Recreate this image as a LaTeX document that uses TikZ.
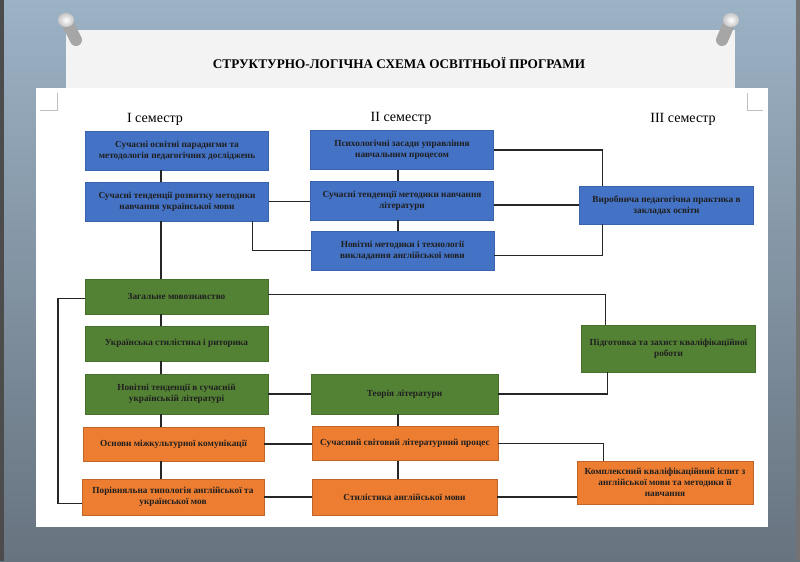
\documentclass[tikz,border=0pt]{standalone}
\usepackage{fontspec}
\setmainfont{Liberation Serif}
\definecolor{boxblue}{HTML}{4472C4}
\definecolor{boxblueline}{HTML}{3A63AE}
\definecolor{boxgreen}{HTML}{548235}
\definecolor{boxgreenline}{HTML}{46702B}
\definecolor{boxorange}{HTML}{ED7D31}
\definecolor{boxorangeline}{HTML}{C0652A}
\definecolor{bgtop}{HTML}{9CB2C5}
\definecolor{bgbot}{HTML}{67737F}
\definecolor{paper}{HTML}{F3F3F3}
\begin{document}
\begin{tikzpicture}[x=0.025cm,y=-0.025cm]
  % Define style for boxes
  \tikzstyle{box} = [draw, rectangle, align=center, inner sep=1pt, text=black!88, font=\fontsize{6.6}{7.8}\selectfont\bfseries]
  \tikzstyle{bluebox} = [box, fill=boxblue, draw=boxblueline]
  \tikzstyle{greenbox} = [box, fill=boxgreen, draw=boxgreenline]
  \tikzstyle{orangebox} = [box, fill=boxorange, draw=boxorangeline]
  \tikzstyle{wide} = [minimum width=4.575cm]
  \tikzstyle{narrow} = [minimum width=4.35cm]
  \tikzstyle{link} = [black!85, line width=0.8pt]
  \tikzstyle{semester} = [font=\fontsize{10}{12}\selectfont]

  \useasboundingbox (0,0) rectangle (800,561);

  % Background, paper and pins
  \shade[top color=bgtop, bottom color=bgbot] (0,0) rectangle (800,561);
  \fill[black!70] (0,0) rectangle (4,561);
  \fill[black!55] (796,0) rectangle (800,561);
  \fill[paper] (66,30) rectangle (735,90);
  \fill[white] (36,88) rectangle (768,527);
  \draw[gray!50, line width=0.4pt] (57,93) -- (57,110) -- (40,110);
  \draw[gray!50, line width=0.4pt] (747,93) -- (747,110) -- (763,110);
  \draw[gray!70, line width=0.3cm, line cap=round] (68,24) -- (76,40);
  \draw[gray!70, line width=0.3cm, line cap=round] (729,24) -- (722,40);
  \shade[inner color=white, outer color=gray!45] (66,20) ellipse (8 and 7);
  \shade[inner color=white, outer color=gray!45] (731,20) ellipse (8 and 7);

  \node (title)[font=\fontsize{9.4}{11}\selectfont\bfseries] at (399,63) {СТРУКТУРНО-ЛОГІЧНА СХЕМА ОСВІТНЬОЇ ПРОГРАМИ};

  \node (sem1)[semester] at (155,119) {І семестр};
  \node (sem2)[semester] at (401,118) {ІІ семестр};
  \node (sem3)[semester] at (683,119) {ІІІ семестр};

  % Blue boxes
  \node (B1)[bluebox, wide, minimum height=0.975cm] at (177,150.5) {Сучасні освітні парадигми та\\методологія педагогічних досліджень};
  \node (B2)[bluebox, wide, minimum height=0.975cm] at (177,201.5) {Сучасні тенденції розвитку методики\\навчання української мови};
  \node (B3)[bluebox, wide, minimum height=0.975cm] at (402,150) {Психологічні засади управління\\навчальним процесом};
  \node (B4)[bluebox, wide, minimum height=0.975cm] at (402,200.5) {Сучасні тенденції методики навчання\\літератури};
  \node (B5)[bluebox, wide, minimum height=0.975cm] at (402.5,250.5) {Новітні методики і технології\\викладання англійської мови};
  \node (B6)[bluebox, narrow, minimum height=0.95cm] at (666.5,205) {Виробнича педагогічна практика в\\закладах освіти};

  % Green boxes
  \node (G1)[greenbox, wide, minimum height=0.875cm] at (176.5,296.5) {Загальне мовознавство};
  \node (G2)[greenbox, wide, minimum height=0.875cm] at (176.5,343.5) {Українська стилістика і риторика};
  \node (G3)[greenbox, wide, minimum height=1cm] at (176.5,394) {Новітні тенденції в сучасній\\українській літературі};
  \node (G4)[greenbox, minimum width=4.675cm, minimum height=1cm] at (404.5,394) {Теорія літератури};
  \node (G5)[greenbox, narrow, minimum height=1.175cm] at (668.5,348.5) {Підготовка та захист кваліфікаційної\\роботи};

  % Orange boxes
  \node (O1)[orangebox, minimum width=4.525cm, minimum height=0.85cm] at (173.5,444) {Основи міжкультурної комунікації};
  \node (O2)[orangebox, minimum width=4.55cm, minimum height=0.9cm] at (173,497) {Порівняльна типологія англійської та\\української мов};
  \node (O3)[orangebox, minimum width=4.65cm, minimum height=0.85cm] at (405,443.5) {Сучасний світовий літературний процес};
  \node (O4)[orangebox, minimum width=4.625cm, minimum height=0.9cm] at (404.5,497) {Стилістика англійської мови};
  \node (O5)[orangebox, minimum width=4.4cm, minimum height=1.075cm] at (665,482.5) {Комплексний кваліфікаційний іспит з\\англійської мови та методики її\\навчання};

  % Connectors
  \coordinate (lspine) at (161,0);
  \coordinate (cspine) at (398,0);
  \coordinate (outer) at (58,0);
  \foreach \a/\b in {B1/B2,B2/G1,G1/G2,G2/G3,G3/O1,O1/O2}
    \draw[link] (\a.south -| lspine) -- (\b.north -| lspine);
  \foreach \a/\b in {B3/B4,B4/B5,G4/O3,O3/O4}
    \draw[link] (\a.south -| cspine) -- (\b.north -| cspine);

  \draw[link] (B2.east) -- (B2.east -| B4.west);
  \draw[link] ([xshift=-0.4cm]B2.south east) |- (B5.west);
  \draw[link] (B3.east) -| ([xshift=0.575cm]B6.north west);
  \draw[link] (B4.east |- B6.west) -- (B6.west);
  \draw[link] ([xshift=0.575cm]B6.south west) |- ([yshift=-0.13cm]B5.east);

  \draw[link] ([yshift=0.06cm]G1.east) -| ([xshift=0.6cm]G5.north west);
  \draw[link] (G3.east) -- (G3.east -| G4.west);
  \draw[link] (G4.east) -| ([xshift=0.65cm]G5.south west);
  \draw[link] ([yshift=-0.06cm]G1.west) -- ([yshift=-0.06cm]G1.west -| outer) |- ([yshift=-0.17cm]O2.west);

  \draw[link] (O1.east) -- (O1.east -| O3.west);
  \draw[link] (O2.east) -- (O2.east -| O4.west);
  \draw[link] (O3.east) -| ([xshift=0.675cm]O5.north west);
  \draw[link] (O4.east) -- (O4.east -| O5.west);
\end{tikzpicture}
\end{document}
